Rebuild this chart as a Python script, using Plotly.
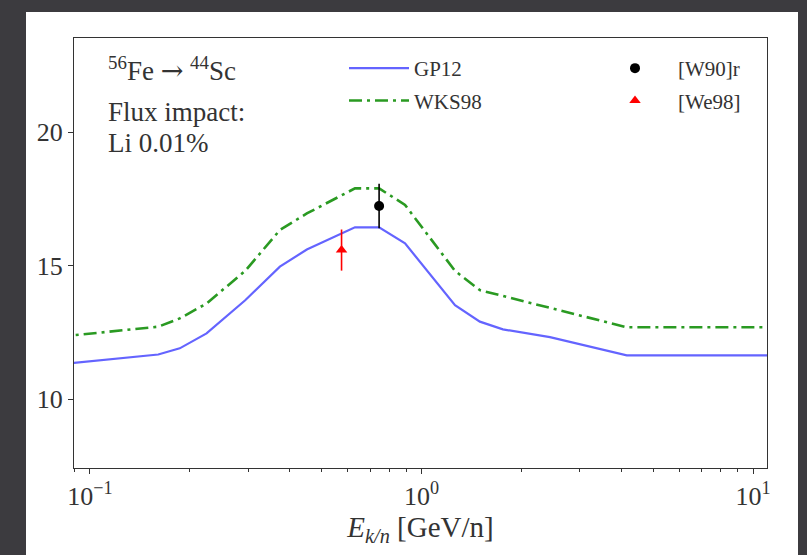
import plotly.graph_objects as go

# ---- data ----
E_model = [0.08, 0.0912, 0.1607, 0.1866, 0.2248, 0.294, 0.374, 0.451, 0.630, 0.745, 0.892, 1.262, 1.50, 1.76, 2.44, 4.16, 12.0]
gp12 = [11.30, 11.37, 11.67, 11.90, 12.46, 13.70, 14.96, 15.60, 16.43, 16.43, 15.83, 13.52, 12.90, 12.61, 12.32, 11.64, 11.64]
wks98 = [12.33, 12.40, 12.71, 13.02, 13.58, 14.80, 16.33, 16.95, 17.89, 17.89, 17.27, 14.80, 14.08, 13.86, 13.42, 12.69, 12.69]

E_w90 = [0.745]
sig_w90 = [17.23]
err_w90 = [0.83]

E_we98 = [0.574]
sig_we98 = [15.58]
err_we98 = [0.77]

x_tickvals = [0.1, 1, 10]
x_ticktext = ["10<sup>−1</sup>", "10<sup>0</sup>", "10<sup>1</sup>"]
x_minor = [0.09, 0.2, 0.3, 0.4, 0.5, 0.6, 0.7, 0.8, 0.9, 2, 3, 4, 5, 6, 7, 8, 9]
y_tickvals = [10, 15, 20]

FONT = "Liberation Serif"
TXT = "#333333"

fig = go.Figure()
fig.add_trace(go.Scatter(x=E_model, y=gp12, mode="lines", name="GP12",
                         line=dict(color="#6464ff", width=2.2), legend="legend"))
fig.add_trace(go.Scatter(x=E_model, y=wks98, mode="lines", name="WKS98",
                         line=dict(color="#2a9a22", width=2.6, dash="13px,5px,3px,5px"),
                         legend="legend"))
fig.add_trace(go.Scatter(x=E_w90, y=sig_w90, mode="markers", name="[W90]r",
                         marker=dict(color="black", size=10, symbol="circle"),
                         error_y=dict(type="data", array=err_w90, color="black", thickness=1.6, width=0),
                         legend="legend2"))
fig.add_trace(go.Scatter(x=E_we98, y=sig_we98, mode="markers", name="[We98]",
                         marker=dict(color="red", size=10, symbol="triangle-up"),
                         error_y=dict(type="data", array=err_we98, color="red", thickness=1.6, width=0),
                         legend="legend2"))

for i, tr in enumerate(fig.data):
    tr.legendgroup = f"g{i}"

def py(p):
    return (468 - p) / 430
def px(p):
    return (p - 74) / 693

# white panel
fig.add_shape(type="rect", xref="paper", yref="paper",
              x0=px(26), x1=px(798), y0=py(560), y1=py(12),
              fillcolor="white", line=dict(width=0), layer="below")

ann_font = dict(family=FONT, size=27, color=TXT)
arrow = "<span style='font-family:DejaVu Serif'>→</span>"
fig.add_annotation(x=px(106), y=py(69), xref="paper", yref="paper", xanchor="left", yanchor="middle",
                   text="<sup>56</sup>Fe " + arrow + " <sup>44</sup>Sc", showarrow=False, font=ann_font)
fig.add_annotation(x=px(106), y=py(112), xref="paper", yref="paper", xanchor="left", yanchor="middle",
                   text="Flux impact:", showarrow=False, font=ann_font)
fig.add_annotation(x=px(106), y=py(143), xref="paper", yref="paper", xanchor="left", yanchor="middle",
                   text="Li 0.01%", showarrow=False, font=ann_font)

axis_common = dict(showgrid=False, zeroline=False, showline=True, mirror=True,
                   linecolor="#333333", linewidth=1.3, ticks="outside", ticklen=5,
                   tickcolor="#333333", tickwidth=1.2,
                   tickfont=dict(family=FONT, size=26, color=TXT))

fig.update_xaxes(type="log", range=[-1.048, 1.042], tickvals=x_tickvals, ticktext=x_ticktext,
                 minor=dict(ticks="outside", ticklen=3, tickcolor="#333333", tickwidth=1,
                            showgrid=False, tickvals=x_minor),
                 title=dict(text="<i>E</i><sub><i>k/n</i></sub> [GeV/n]",
                            font=dict(family=FONT, size=29, color=TXT), standoff=5),
                 **axis_common)
fig.update_yaxes(range=[7.42, 23.52], tickvals=y_tickvals, **axis_common)

leg_font = dict(family=FONT, size=21, color=TXT)
fig.update_layout(
    width=807, height=555,
    margin=dict(l=74, r=40, t=38, b=87),
    paper_bgcolor="#3c3b3f", plot_bgcolor="white",
    showlegend=True,
    legend=dict(x=px(344), y=py(48), xanchor="left", yanchor="top", bgcolor="rgba(0,0,0,0)",
                font=leg_font, itemwidth=60, tracegroupgap=2, borderwidth=0),
    legend2=dict(x=px(592), y=py(48), xanchor="left", yanchor="top", bgcolor="rgba(0,0,0,0)",
                 font=leg_font, itemwidth=76, tracegroupgap=2, borderwidth=0),
)

fig.write_html("out.html")
